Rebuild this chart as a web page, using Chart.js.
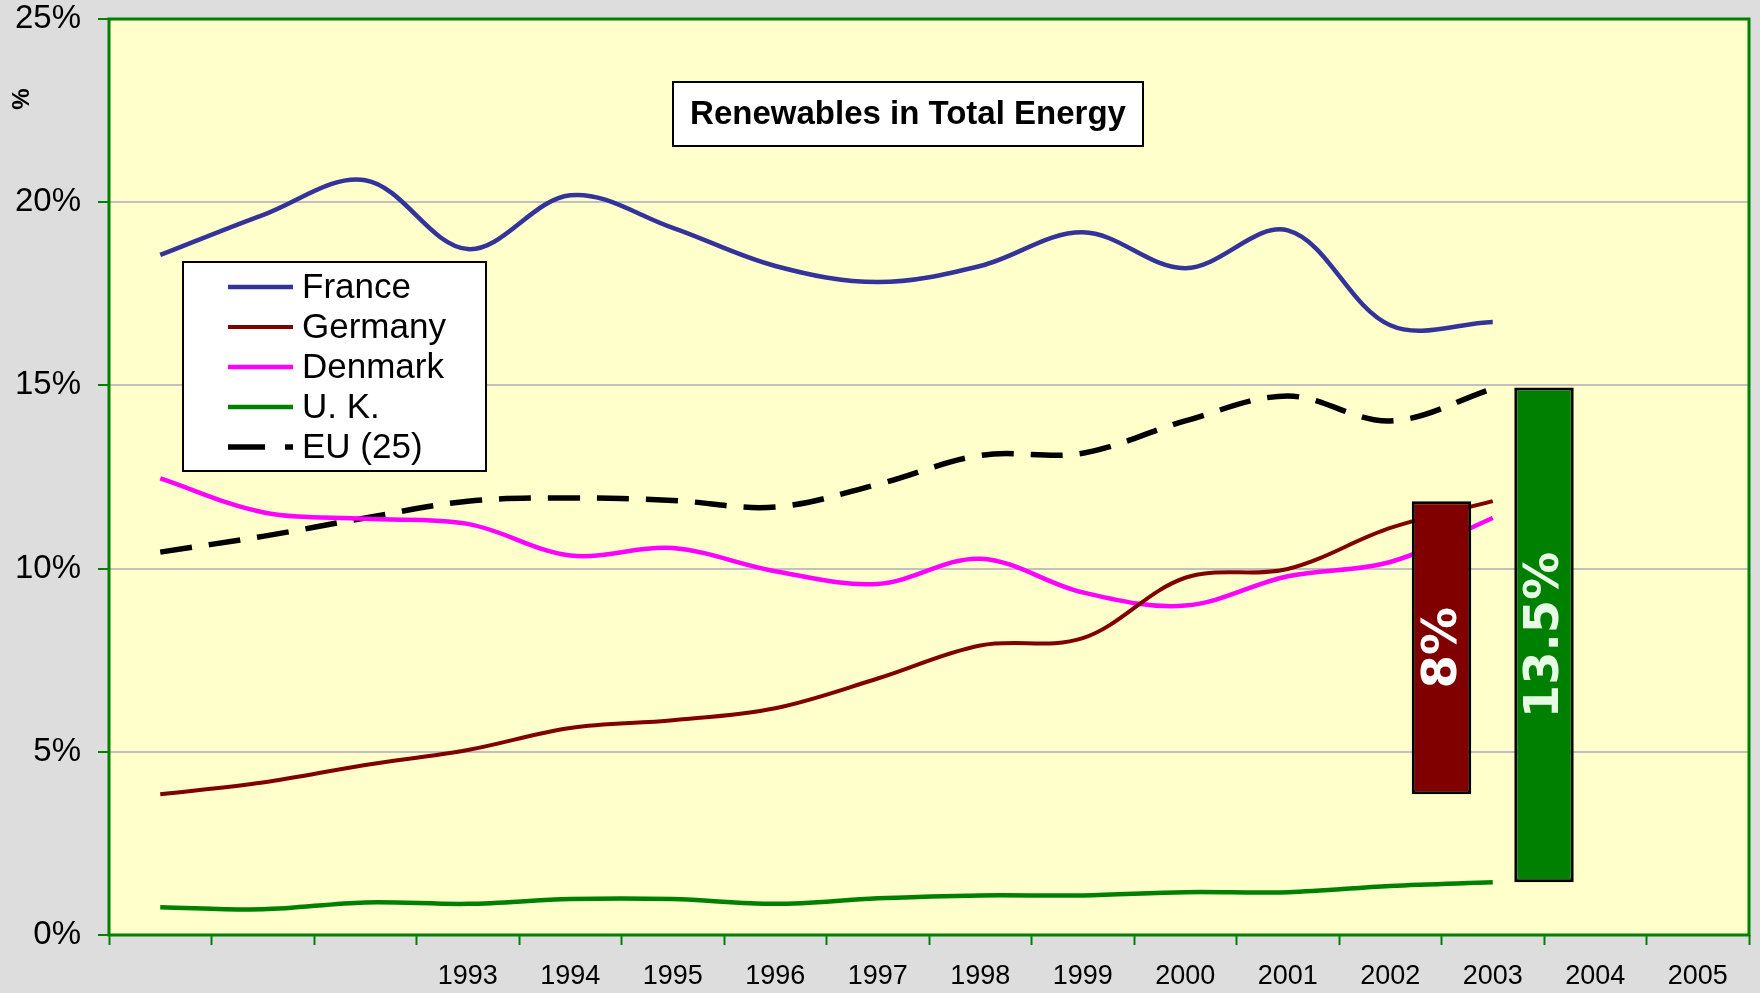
<!DOCTYPE html>
<html>
<head>
<meta charset="utf-8">
<script src="https://cdn.jsdelivr.net/npm/chart.js@4.4.1/dist/chart.umd.min.js"></script>
<style>
html,body{margin:0;padding:0;background:#DDDDDD;}
canvas{display:block;}
</style>
</head>
<body>
<canvas id="c" width="1760" height="993"></canvas>
<script>
// ---- data ----
const years = ['1990','1991','1992','1993','1994','1995','1996','1997','1998','1999','2000','2001','2002','2003','2004','2005'];
const tickLabels = ['','','','1993','1994','1995','1996','1997','1998','1999','2000','2001','2002','2003','2004','2005'];
const seriesNames = ['France','Germany','Denmark','U. K.','EU (25)'];
const france  = [18.56, 19.65, 20.60, 18.72, 20.19, 19.30, 18.26, 17.82, 18.26, 19.18, 18.20, 19.23, 16.64, 16.73];
const germany = [3.84, 4.16, 4.64, 5.05, 5.65, 5.86, 6.19, 7.00, 7.90, 8.10, 9.75, 9.99, 11.11, 11.84];
const denmark = [12.46, 11.54, 11.36, 11.22, 10.36, 10.56, 9.93, 9.58, 10.27, 9.35, 8.99, 9.79, 10.18, 11.38];
const uk      = [0.76, 0.70, 0.89, 0.85, 0.98, 0.98, 0.85, 1.00, 1.08, 1.08, 1.17, 1.17, 1.34, 1.44];
const eu25    = [10.45, 10.88, 11.38, 11.84, 11.93, 11.86, 11.68, 12.30, 13.09, 13.15, 14.03, 14.71, 14.03, 14.91];
const gapBarAfterYear = ['2002','2003'];
const gapBarFrom = [3.84, 1.44];
const gapBarTo   = [11.84, 14.94];
const gapBarLabels = ['8%','13.5%'];
const chartTitle = 'Renewables in Total Energy';
const yAxisTitle = '%';

Chart.defaults.font.family = "'Liberation Sans', Arial, sans-serif";
Chart.defaults.color = '#000';

const lineStyle = (label, data, color, width, dash) => ({
  type: 'line', label, data, xAxisID: 'x', yAxisID: 'y',
  borderColor: color, backgroundColor: color, borderWidth: width,
  borderDash: dash || [], pointRadius: 0, tension: 0.35, fill: false, order: 1
});

const framePlugin = {
  id: 'frame',
  beforeDraw(chart) {
    const {ctx, chartArea: a} = chart;
    ctx.save();
    ctx.fillStyle = '#DDDDDD';
    ctx.fillRect(0, 0, chart.width, chart.height);
    ctx.fillStyle = '#FFFFCC';
    ctx.fillRect(a.left, a.top, a.right - a.left, a.bottom - a.top);
    ctx.restore();
  },
  beforeDatasetsDraw(chart) {
    const {ctx, chartArea: a} = chart;
    ctx.save();
    ctx.strokeStyle = '#008000';
    ctx.lineWidth = 3;
    ctx.strokeRect(a.left, a.top, a.right - a.left, a.bottom - a.top);
    ctx.restore();
  },
  afterDatasetsDraw(chart) {
    const {ctx, chartArea: a} = chart;
    // bar labels
    const labelColors = ['#FFFFFF', '#E6FAE6'];
    chart.data.datasets.forEach((ds, di) => {
      if (ds.type !== 'bar') return;
      const meta = chart.getDatasetMeta(di);
      meta.data.forEach((el, i) => {
        ctx.save();
        ctx.translate(el.x, (el.y + el.base) / 2);
        ctx.rotate(-Math.PI / 2);
        ctx.font = "bold 48px 'DejaVu Sans', Verdana, sans-serif";
        ctx.fillStyle = labelColors[i];
        ctx.textAlign = 'center';
        ctx.textBaseline = 'middle';
        ctx.fillText(gapBarLabels[i], 0, 2);
        ctx.restore();
      });
    });
    // title box
    ctx.save();
    const tx = a.left + 564, ty = a.top + 63, tw = 470, th = 64;
    ctx.fillStyle = '#FFFFFF';
    ctx.fillRect(tx, ty, tw, th);
    ctx.strokeStyle = '#000';
    ctx.lineWidth = 2;
    ctx.strokeRect(tx, ty, tw, th);
    ctx.fillStyle = '#000';
    ctx.font = "bold 33px 'Liberation Sans', Arial, sans-serif";
    ctx.textAlign = 'center';
    ctx.textBaseline = 'middle';
    ctx.fillText(chartTitle, tx + tw / 2, ty + th / 2 + 1);
    ctx.restore();
    // legend box
    ctx.save();
    const lx = a.left + 74, ly = a.top + 243, lw = 303, lh = 209;
    ctx.fillStyle = '#FFFFFF';
    ctx.fillRect(lx, ly, lw, lh);
    ctx.strokeStyle = '#000';
    ctx.lineWidth = 2;
    ctx.strokeRect(lx, ly, lw, lh);
    let row = 0;
    chart.data.datasets.forEach((ds) => {
      if (ds.type !== 'line') return;
      const yy = ly + 25 + row * 40;
      ctx.strokeStyle = ds.borderColor;
      ctx.lineWidth = Math.max(4, ds.borderWidth);
      ctx.setLineDash(ds.borderDash && ds.borderDash.length ? [37, 20] : []);
      ctx.beginPath();
      ctx.moveTo(lx + 45, yy);
      ctx.lineTo(lx + 110, yy);
      ctx.stroke();
      ctx.setLineDash([]);
      ctx.fillStyle = '#000';
      ctx.font = "35px 'Liberation Sans', Arial, sans-serif";
      ctx.textAlign = 'left';
      ctx.textBaseline = 'middle';
      ctx.fillText(ds.label, lx + 119, yy + 1);
      row++;
    });
    ctx.restore();
  },
  afterDraw(chart) {
    const {ctx, chartArea: a} = chart;
    ctx.save();
    ctx.translate(22, a.top + 80);
    ctx.rotate(-Math.PI / 2);
    ctx.font = "bold 24px 'Liberation Sans', Arial, sans-serif";
    ctx.fillStyle = '#000';
    ctx.textAlign = 'center';
    ctx.textBaseline = 'middle';
    ctx.fillText(yAxisTitle, 0, 0);
    ctx.restore();
  }
};

new Chart(document.getElementById('c'), {
  type: 'line',
  data: {
    labels: years,
    datasets: [
      lineStyle(seriesNames[0], france, '#333399', 4.5),
      lineStyle(seriesNames[1], germany, '#800000', 4),
      lineStyle(seriesNames[2], denmark, '#FF00FF', 4.5),
      lineStyle(seriesNames[3], uk, '#008000', 4.5),
      lineStyle(seriesNames[4], eu25, '#000000', 5.5, [32, 17]),
      {
        type: 'bar', label: 'gap', xAxisID: 'xl', yAxisID: 'y', order: 0,
        data: gapBarAfterYear.map((yr, i) => ({x: years.indexOf(yr) + 0.5, y: [gapBarFrom[i], gapBarTo[i]]})),
        backgroundColor: ['#800000', '#008000'],
        borderColor: '#000000', borderWidth: 3, borderSkipped: false,
        grouped: false, categoryPercentage: 1, barPercentage: 0.58
      }
    ]
  },
  options: {
    responsive: false,
    devicePixelRatio: 1,
    animation: false,
    events: [],
    layout: {padding: {top: 19, right: 11, bottom: 0, left: 0}},
    plugins: {legend: {display: false}, tooltip: {enabled: false}, title: {display: false}},
    scales: {
      x: {
        type: 'category', position: 'bottom', offset: true,
        grid: {display: true, drawOnChartArea: false, offset: true, drawTicks: true,
               tickLength: 10, tickColor: '#008000', tickWidth: 2, color: '#008000'},
        border: {display: false},
        ticks: {autoSkip: false, maxRotation: 0, minRotation: 0, padding: 15,
                font: {size: 27}, color: '#000', callback: (v, i) => tickLabels[i]},
        afterFit: (s) => { s.height = 58; s.paddingLeft = 0; s.paddingRight = 0; }
      },
      xl: {
        type: 'linear', position: 'bottom', display: true, offset: false, bounds: 'data',
        min: -0.5, max: years.length - 0.5,
        grid: {display: false, drawTicks: false}, border: {display: false},
        ticks: {display: false, stepSize: 1, includeBounds: false},
        afterFit: (s) => { s.height = 0; s.paddingLeft = 0; s.paddingRight = 0; }
      },
      y: {
        type: 'linear', position: 'left', min: 0, max: 25,
        grid: {color: '#C0C0C0', lineWidth: 2, drawTicks: true, tickLength: 11,
               tickColor: '#008000', tickWidth: 2},
        border: {display: false},
        ticks: {stepSize: 5, padding: 17, font: {size: 33}, color: '#000',
                callback: (v) => v + '%'},
        afterFit: (s) => { s.width = 109; s.paddingTop = 0; s.paddingBottom = 0; }
      }
    }
  },
  plugins: [framePlugin]
});
</script>
</body>
</html>
